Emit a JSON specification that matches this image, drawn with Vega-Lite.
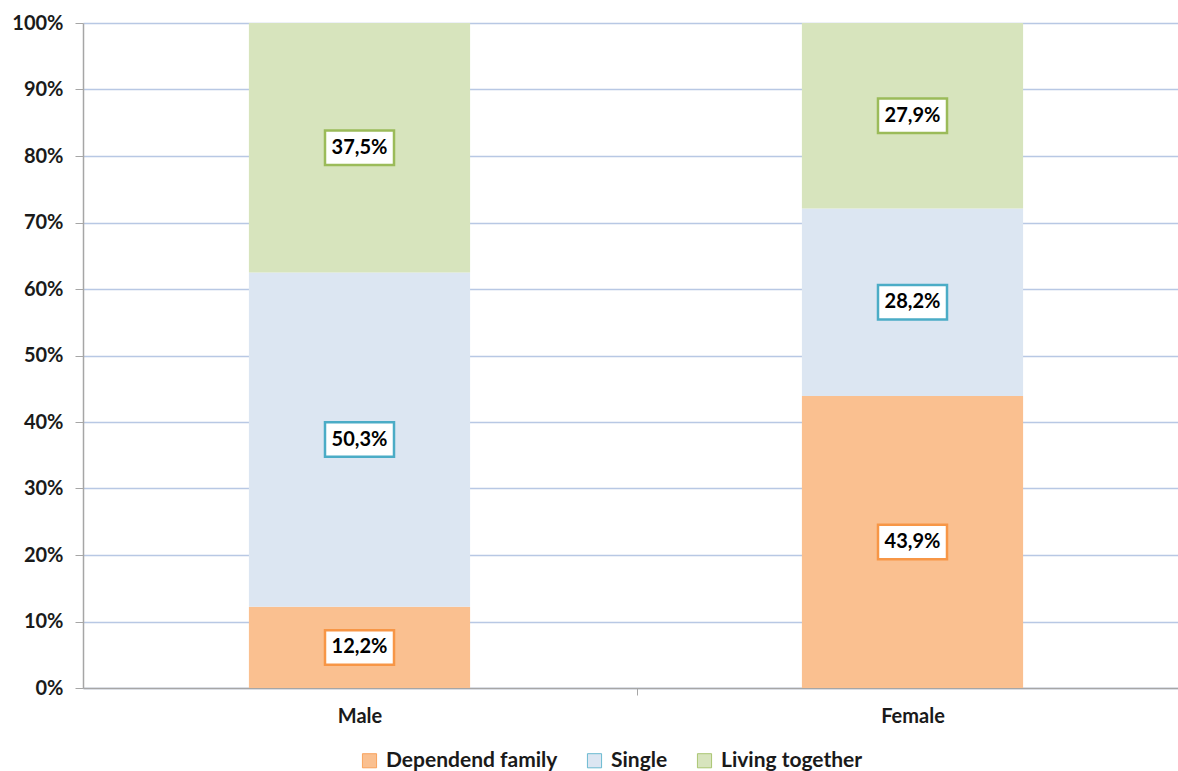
{
  "$schema": "https://vega.github.io/schema/vega-lite/v6.json",
  "width": 1106,
  "height": 665,
  "autosize": "none",
  "padding": {"left": 83, "top": 23, "right": 0, "bottom": 83},
  "background": "white",
  "config": {
    "locale": {"number": {"decimal": ",", "thousands": ".", "grouping": [3], "currency": ["", " €"]}},
    "view": {"stroke": null},
    "font": "Lato"
  },
  "data": {
    "values": [
      {"gender": "Male", "category": "Dependend family", "rank": 1, "share": 0.122},
      {"gender": "Male", "category": "Single", "rank": 2, "share": 0.503},
      {"gender": "Male", "category": "Living together", "rank": 3, "share": 0.375},
      {"gender": "Female", "category": "Dependend family", "rank": 1, "share": 0.439},
      {"gender": "Female", "category": "Single", "rank": 2, "share": 0.282},
      {"gender": "Female", "category": "Living together", "rank": 3, "share": 0.279}
    ]
  },
  "layer": [
    {
      "mark": {"type": "bar"},
      "encoding": {
        "x": {
          "field": "gender", "type": "nominal", "sort": ["Male", "Female"],
          "scale": {"paddingInner": 0.6, "paddingOuter": 0.3},
          "axis": {
            "title": null, "labelAngle": 0, "labelFont": "Lato", "labelFontSize": 20, "labelFontWeight": "bold",
            "labelColor": "#1a1a1a", "labelPadding": 11, "tickSize": 7, "tickOffset": 277, "labelOffset": -277,
            "tickColor": "#a6a6a6", "domainColor": "#a6a6a6", "domainWidth": 1.5, "grid": false
          }
        },
        "y": {
          "field": "share", "type": "quantitative", "stack": "zero",
          "scale": {"domain": [0, 1]},
          "axis": {
            "title": null, "format": ".0%", "values": [0, 0.1, 0.2, 0.3, 0.4, 0.5, 0.6, 0.7, 0.8, 0.9, 1],
            "labelFont": "Lato", "labelFontSize": 20, "labelFontWeight": "bold", "labelColor": "#1a1a1a",
            "labelPadding": 12, "tickSize": 8, "tickColor": "#a6a6a6", "domainColor": "#a6a6a6", "domainWidth": 1.5,
            "grid": true, "gridColor": "#b8c8e4", "gridWidth": 1.3
          }
        },
        "color": {
          "field": "category", "type": "nominal",
          "scale": {"domain": ["Dependend family", "Single", "Living together"], "range": ["#fac090", "#dce6f2", "#d7e4bd"]},
          "legend": {
            "title": null, "orient": "none", "legendX": 276, "legendY": 727, "direction": "horizontal",
            "symbolType": "square", "symbolSize": 200, "symbolStrokeWidth": 0.8, "symbolStrokeColor": "#b0b0b0",
            "labelFont": "Lato", "labelFontSize": 21, "labelFontWeight": "bold", "labelColor": "#1a1a1a",
            "labelOffset": 6, "labelLimit": 400, "columnPadding": 26
          }
        },
        "order": {"field": "rank", "type": "quantitative"}
      }
    },
    {
      "transform": [
        {"stack": "share", "groupby": ["gender"], "sort": [{"field": "rank"}], "as": ["v0", "v1"]},
        {"calculate": "(datum.v0 + datum.v1) / 2", "as": "mid"}
      ],
      "mark": {"type": "point", "shape": "M-1,-0.5H1V0.5H-1Z", "size": 4761, "filled": true, "fill": "white", "opacity": 1, "strokeWidth": 2.5},
      "encoding": {
        "x": {"field": "gender", "type": "nominal", "sort": ["Male", "Female"]},
        "y": {"field": "mid", "type": "quantitative"},
        "stroke": {
          "field": "category", "type": "nominal",
          "scale": {"domain": ["Dependend family", "Single", "Living together"], "range": ["#f79646", "#4bacc6", "#9bbb59"]},
          "legend": null
        }
      }
    },
    {
      "transform": [
        {"stack": "share", "groupby": ["gender"], "sort": [{"field": "rank"}], "as": ["v0", "v1"]},
        {"calculate": "(datum.v0 + datum.v1) / 2", "as": "mid"}
      ],
      "mark": {"type": "text", "font": "Lato", "fontSize": 20, "fontWeight": "bold", "color": "#000000"},
      "encoding": {
        "x": {"field": "gender", "type": "nominal", "sort": ["Male", "Female"]},
        "y": {"field": "mid", "type": "quantitative"},
        "text": {"field": "share", "type": "quantitative", "format": ".1%"}
      }
    }
  ]
}
